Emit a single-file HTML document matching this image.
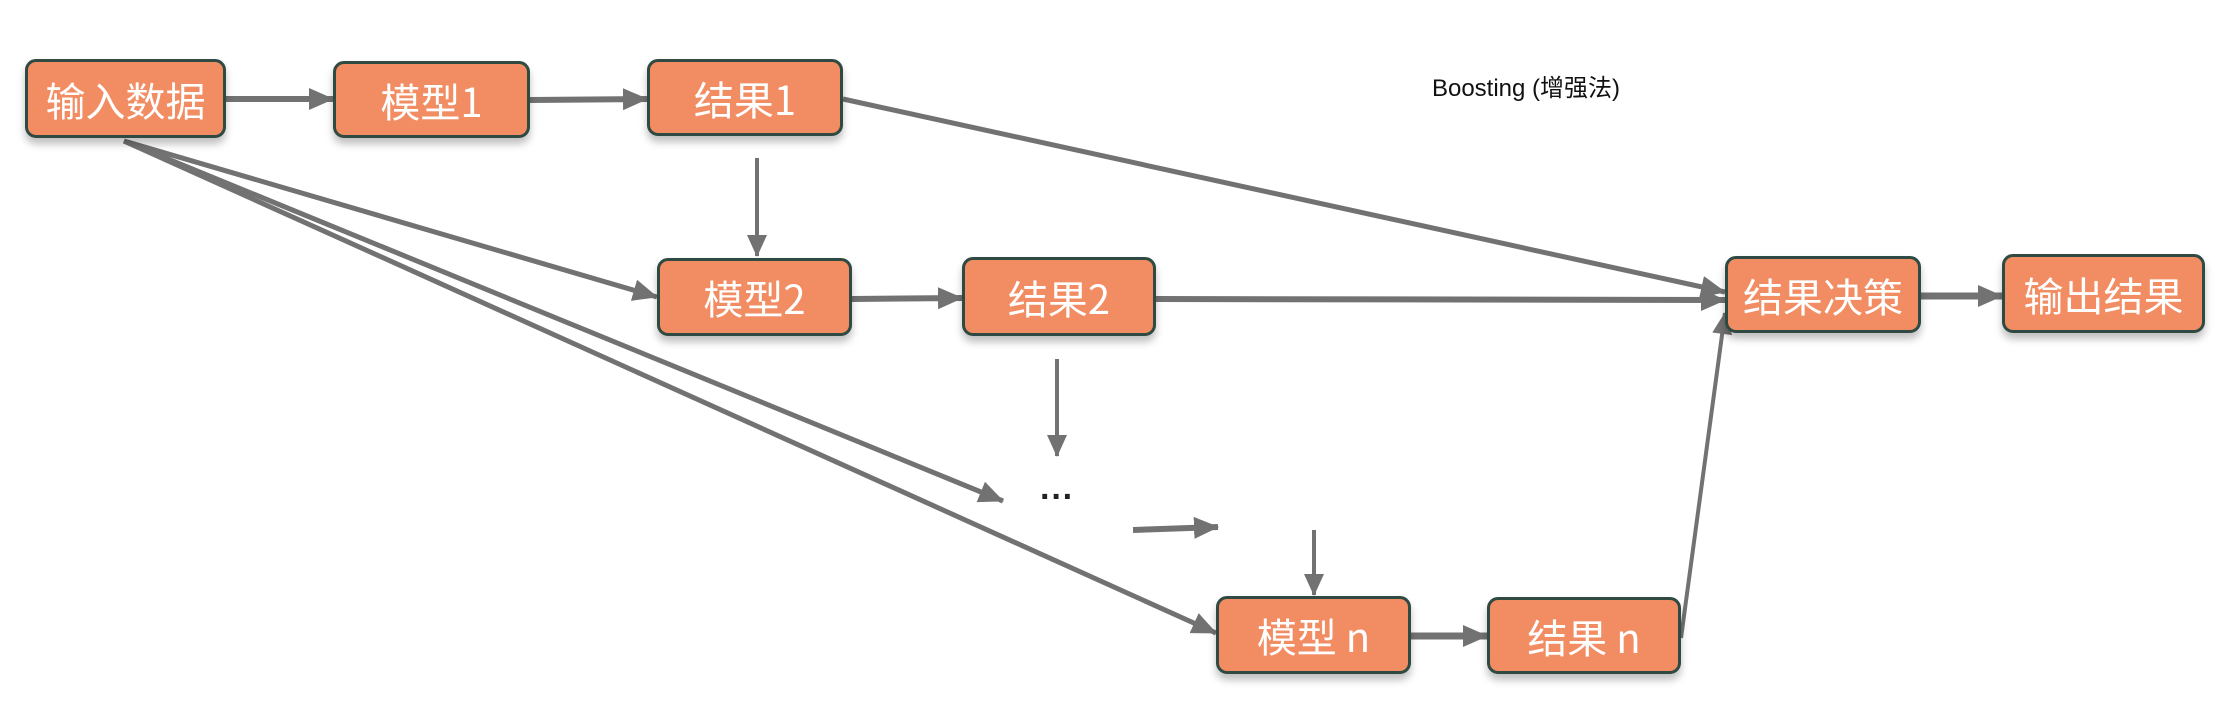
<!DOCTYPE html>
<html><head><meta charset="utf-8"><style>
body{margin:0;width:2215px;height:720px;background:#fff;position:relative;overflow:hidden;font-family:"Liberation Sans","Noto Sans CJK SC",sans-serif}
.b{position:absolute;box-sizing:border-box;background:#F28C62;border:3px solid #2f4a42;border-radius:11px;color:#fff;font-size:40px;font-weight:400;display:flex;align-items:center;justify-content:center;box-shadow:0 6px 8px rgba(0,0,0,.25);font-family:"Noto Sans CJK SC",sans-serif}
svg{position:absolute;left:0;top:0}
</style></head><body>
<svg width="2215" height="720">
<defs><marker id="a" markerWidth="30" markerHeight="30" refX="24" refY="15" orient="auto" markerUnits="userSpaceOnUse"><path d="M0,4 L25,15 L0,26 Z" fill="#727272"/></marker>
<marker id="c" markerWidth="30" markerHeight="30" refX="24" refY="15" orient="auto" markerUnits="userSpaceOnUse"><path d="M3,5 L25,15 L3,25 Z" fill="#727272"/></marker></defs>
<g stroke="#727272" fill="none">
<line x1="226" y1="99" x2="333" y2="99" stroke-width="6" marker-end="url(#a)"/>
<line x1="530" y1="100" x2="647" y2="99" stroke-width="6" marker-end="url(#a)"/>
<line x1="843" y1="99" x2="1725" y2="292" stroke-width="5" marker-end="url(#a)"/>
<line x1="757" y1="158" x2="757" y2="256" stroke-width="4" marker-end="url(#c)"/>
<line x1="124" y1="141" x2="657" y2="297" stroke-width="5" marker-end="url(#a)"/>
<line x1="124" y1="141" x2="1003" y2="501" stroke-width="5" marker-end="url(#a)"/>
<line x1="124" y1="141" x2="1216" y2="633" stroke-width="5" marker-end="url(#a)"/>
<line x1="852" y1="299" x2="962" y2="298" stroke-width="6" marker-end="url(#a)"/>
<line x1="1156" y1="299" x2="1725" y2="300" stroke-width="6" marker-end="url(#a)"/>
<line x1="1057" y1="359" x2="1057" y2="456" stroke-width="4" marker-end="url(#c)"/>
<line x1="1133" y1="530" x2="1218" y2="527" stroke-width="6" marker-end="url(#a)"/>
<line x1="1314" y1="530" x2="1314" y2="595" stroke-width="4" marker-end="url(#c)"/>
<line x1="1411" y1="636" x2="1487" y2="636" stroke-width="7" marker-end="url(#a)"/>
<line x1="1681" y1="638" x2="1725" y2="313" stroke-width="4" marker-end="url(#c)"/>
<line x1="1921" y1="296" x2="2002" y2="296" stroke-width="7" marker-end="url(#a)"/>
</g>
<text x="1057" y="508" font-size="34" font-weight="bold" text-anchor="middle" fill="#222" font-family="Liberation Sans">···</text>
<text x="1526" y="96" font-size="24" text-anchor="middle" fill="#111" font-family="Liberation Sans, Noto Sans CJK SC, sans-serif">Boosting (增强法)</text>
</svg>
<div class="b" style="left:25px;top:59px;width:201px;height:79px">输入数据</div>
<div class="b" style="left:333px;top:61px;width:197px;height:77px">模型1</div>
<div class="b" style="left:647px;top:59px;width:196px;height:77px">结果1</div>
<div class="b" style="left:657px;top:258px;width:195px;height:78px">模型2</div>
<div class="b" style="left:962px;top:257px;width:194px;height:79px">结果2</div>
<div class="b" style="left:1725px;top:256px;width:196px;height:77px">结果决策</div>
<div class="b" style="left:2002px;top:254px;width:203px;height:79px">输出结果</div>
<div class="b" style="left:1216px;top:596px;width:195px;height:78px">模型 n</div>
<div class="b" style="left:1487px;top:597px;width:194px;height:77px">结果 n</div>
</body></html>
